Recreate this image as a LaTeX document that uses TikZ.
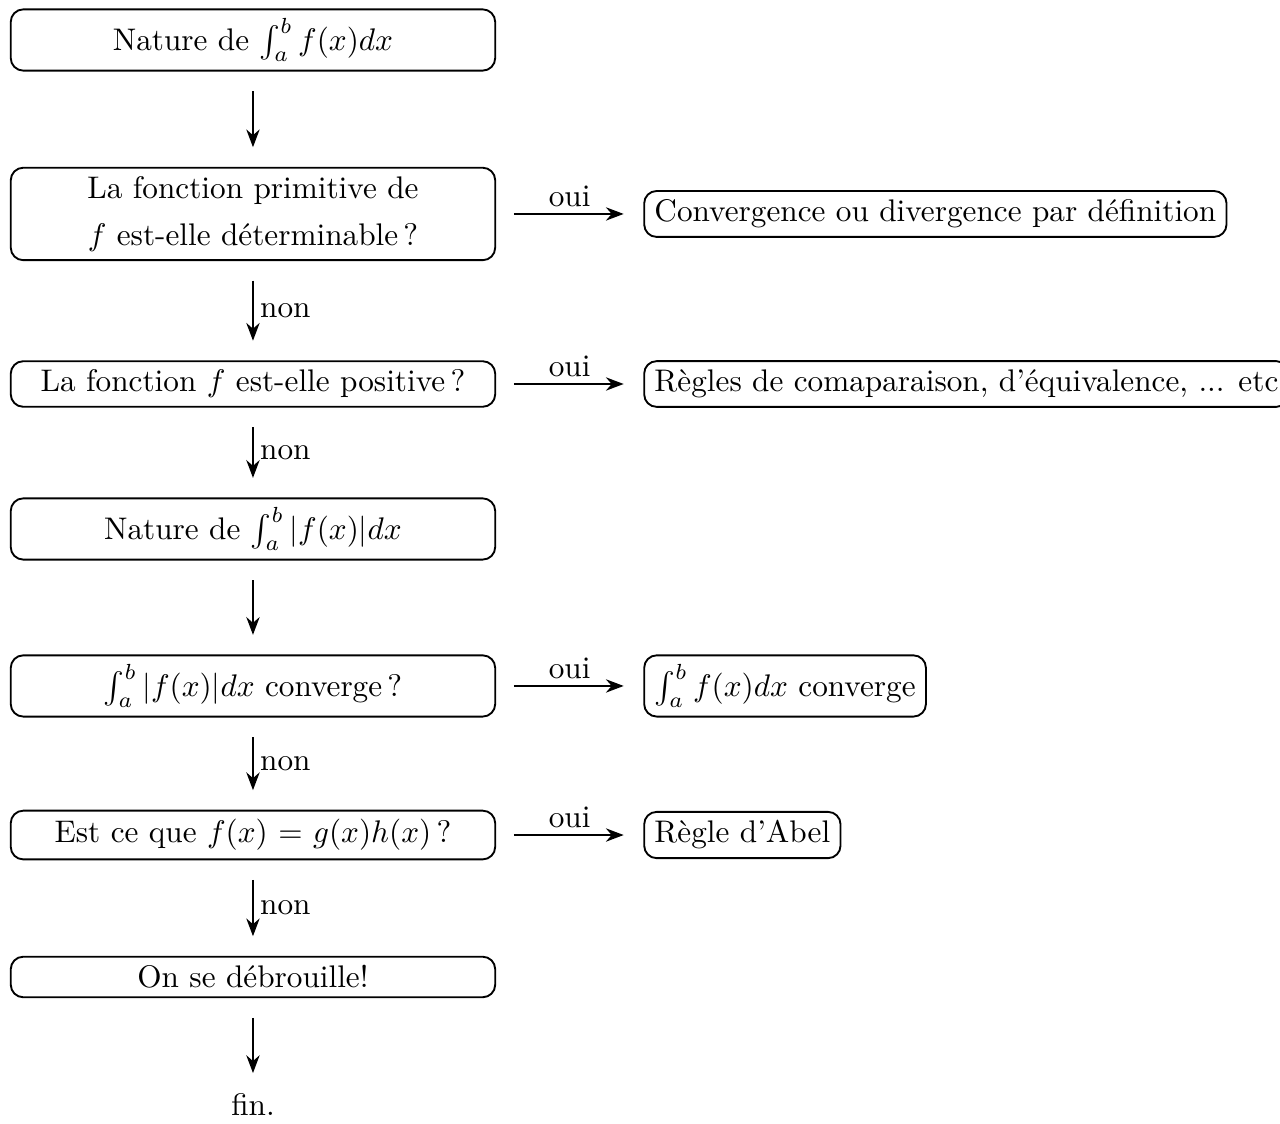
\documentclass[tikz,border=0pt]{standalone}
\usepackage{amsmath,amssymb}
\usepackage{tikz}
\usetikzlibrary{arrows.meta,positioning,calc}
\tikzset{
  natbox/.style={draw,semithick,rounded corners=4pt,align=center,minimum width=54.5mm,inner xsep=3.3pt,inner ysep=2.8pt},
  natres/.style={draw,semithick,rounded corners=4pt,align=center,inner xsep=3.3pt,inner ysep=2.8pt},
  natflow/.style={-{Stealth[length=2mm]},semithick,shorten <=2.2mm,shorten >=2.2mm},
  natlabel/.style={inner sep=2pt},
}

\begin{document}
\begin{tikzpicture}[node distance=11mm and 16.55mm]
\useasboundingbox(-2.846,0.45)rectangle++(14.4,-12.645);
\node[natbox](nat)at(0,0){Nature de $\int_a^b f(x)dx$};
\node[natbox](prim)at(0,-1.957){La fonction primitive de\\[3pt]$f$ est-elle déterminable\,?};
\node[natbox](pos)at(0,-3.87){La fonction $f$ est-elle positive\,?};
\node[natbox](absnat)at(0,-5.501){Nature de $\int_a^b |f(x)|dx$};
\node[natbox](absconv)at(0,-7.267){$\int_a^b |f(x)|dx$ converge\,?};
\node[natbox](prod)at(0,-8.944){Est ce que $f(x)$ = $g(x)h(x)$\,?};
\node[natbox](debr)at(0,-10.541){On se débrouille!};
\node(fin)at(0,-11.97){fin.};
% reponses
\node[natres,right=of prim](def){Convergence ou divergence par définition};
\node[natres,right=of pos](comp){Règles de comaparaison, d'équivalence, ... etc};
\node[natres,right=of absconv](cv){$\int_a^b f(x)dx$ converge};
\node[natres,right=of prod](abel){Règle d'Abel};
\draw[natflow](nat)--(prim);
\draw[natflow](prim)--node[natlabel,right]{non}(pos);
\draw[natflow](pos)--node[natlabel,right]{non}(absnat);
\draw[natflow](absnat)--(absconv);
\draw[natflow](absconv)--node[natlabel,right]{non}(prod);
\draw[natflow](prod)--node[natlabel,right]{non}(debr);
\draw[natflow,shorten >=1mm](debr)--(fin);
\draw[natflow,shorten <=2mm](prim)--node[natlabel,above]{oui}(def);
\draw[natflow,shorten <=2mm](pos)--node[natlabel,above]{oui}(comp);
\draw[natflow,shorten <=2mm](absconv)--node[natlabel,above]{oui}(cv);
\draw[natflow,shorten <=2mm](prod)--node[natlabel,above]{oui}(abel);
\end{tikzpicture}
\end{document}
